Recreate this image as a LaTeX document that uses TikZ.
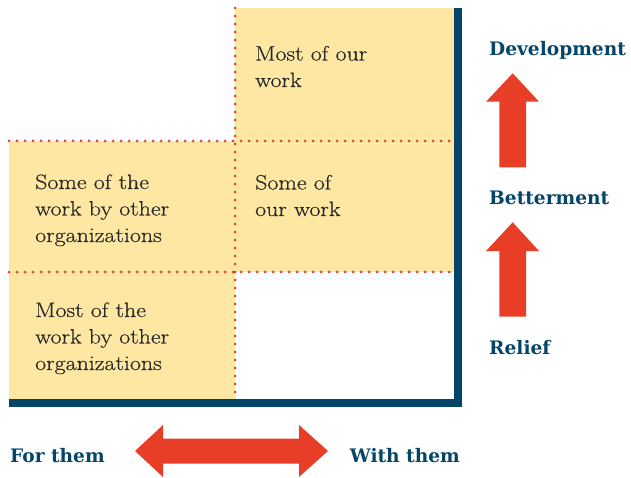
\documentclass[tikz,border=0pt]{standalone}
\usepackage{fontspec}
\usepackage{tikz}
\newfontfamily\labelfont{DejaVu Serif}
\newfontfamily\cellfont{Latin Modern Roman}[FakeStretch=1.15, FakeBold=0.5]

\definecolor{cellyellow}{RGB}{253,231,162}
\definecolor{frameblue}{RGB}{4,69,104}
\definecolor{blockred}{RGB}{232,62,40}
\definecolor{inkgray}{RGB}{40,40,40}

\tikzset{
	gridline/.style={blockred, line width=3pt, line cap=round, dash pattern=on 0pt off 8pt},
	celltext/.style={inkgray, inner sep=0pt, align=left, anchor=base west, font=\cellfont\fontsize{20.8}{26.5}\selectfont},
	axislabel/.style={frameblue, inner sep=0pt, font=\labelfont\bfseries\fontsize{18.6}{22}\selectfont}
}

\begin{document}
\begin{tikzpicture}[x=1pt, y=-1pt]
				\useasboundingbox (0,0) rectangle (631,478);
				
				% shaded cells
				\fill[cellyellow] (235,8) rectangle (458,141);
				\fill[cellyellow] (9,141) rectangle (458,272);
				\fill[cellyellow] (9,272) rectangle (235,400);
				
				% dotted grid
				\draw[gridline] (235,8) -- (235,400);
				\draw[gridline] (9,141) -- (458,141);
				\draw[gridline] (9,272) -- (458,272);
				
				% axes frame
				\draw[frameblue, line width=8pt] (458,8) -- (458,403) -- (9,403);
				
				\node[celltext] (ours) at (255,87) {Most of our\\work};
				\node[celltext] (someours) at (255,216) {Some of\\our work};
				\node[celltext] (someother) at (35,242) {Some of the\\work by other\\organizations};
				\node[celltext] (mostother) at (35,370) {Most of the\\work by other\\organizations};
				
				\node[axislabel, anchor=base west] (dev) at (489,56) {Development};
				\node[axislabel, anchor=base west] (bet) at (489,205) {Betterment};
				\node[axislabel, anchor=base west] (rel) at (489,354) {Relief};
				\node[axislabel, anchor=base west] (for) at (10,462) {For them};
				\node[axislabel, anchor=base east] (with) at (460,462) {With them};
				
				% block arrows
				\fill[blockred] (512.7,73.3) -- (539,101.7) -- (526,101.7) -- (526,167.3) -- (499.3,167.3) -- (499.3,101.7) -- (486,101.7) -- cycle;
				\fill[blockred] (512.7,222.3) -- (539,251) -- (526,251) -- (526,316.7) -- (499.3,316.7) -- (499.3,251) -- (486,251) -- cycle;
				\fill[blockred] (135,451) -- (163,425) -- (163,438.5) -- (299,438.5) -- (299,425) -- (328,451) -- (299,477) -- (299,463.5) -- (163,463.5) -- (163,477) -- cycle;
			\end{tikzpicture}
\end{document}
